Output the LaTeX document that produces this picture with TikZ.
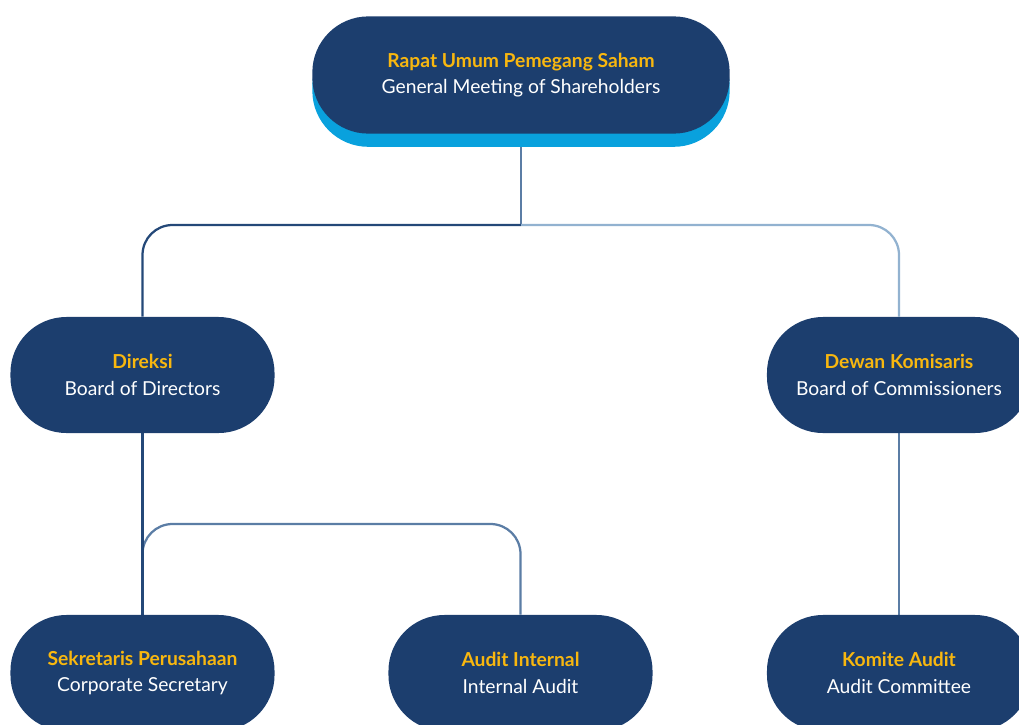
\documentclass[tikz,border=0pt]{standalone}
\usepackage{fontspec}
\setmainfont{Lato}
\usepackage{tikz}
\usetikzlibrary{shadows, backgrounds}
\definecolor{navy}{HTML}{1C3E6E}
\definecolor{gold}{HTML}{F8B70F}
\definecolor{sky}{HTML}{09A1DD}
\definecolor{linkdark}{HTML}{244878}
\definecolor{linkmid}{HTML}{5B7DA5}
\definecolor{linklight}{HTML}{92B2D0}

\begin{document}
\begin{tikzpicture}[x=0.025cm, y=-0.025cm,
  unit/.style={fill=navy, rounded corners=1.4cm, minimum width=6.6cm, minimum height=2.9cm,
    align=center, text=white, inner sep=0pt, font=\fontsize{13.7}{18.7}\selectfont},
  link/.style={line width=1.6pt, rounded corners=0.75cm}]
  \useasboundingbox (0,0) rectangle (1019,724);
  \clip (0,0) rectangle (1019,724);
  % rapat umum
  \node[unit, minimum width=10.43cm, minimum height=2.93cm,
    drop shadow={shadow xshift=0cm, shadow yshift=-0.33cm, fill=sky, opacity=1}]
    (rups) at (521,75) {\textbf{\color{gold}Rapat Umum Pemegang Saham}\\General Meeting of Shareholders};
  % direksi dan dewan komisaris
  \node[unit] (direksi) at (142.5,375) {\textbf{\color{gold}Direksi}\\Board of Directors};
  \node[unit] (dekom) at (899,375) {\textbf{\color{gold}Dewan Komisaris}\\Board of Commissioners};
  % unit di bawah
  \node[unit] (sekper) at (142.5,673) {\textbf{\color{gold}Sekretaris Perusahaan}\\Corporate Secretary};
  \node[unit] (audint) at (520.5,673) {\textbf{\color{gold}Audit Internal}\\Internal Audit};
  \node[unit] (komaud) at (899,673) {\textbf{\color{gold}Komite Audit}\\Audit Committee};
  % garis penghubung
  \coordinate (split) at (521,225);
  \coordinate (fork) at (142.5,590);
  \coordinate (bend) at (330,524);
  \begin{scope}[on background layer]
    \draw[link, linkmid] (rups.south) -- (split);
    \draw[link, linkdark] (split) -| (direksi.north);
    \draw[link, linklight] (split) -| (dekom.north);
    \draw[link, linkmid] (fork) |- (bend) -| (audint.north);
    \draw[link, linkdark] (direksi.south) -- (sekper.north);
    \draw[link, linkmid] (dekom.south) -- (komaud.north);
  \end{scope}
\end{tikzpicture}
\end{document}
